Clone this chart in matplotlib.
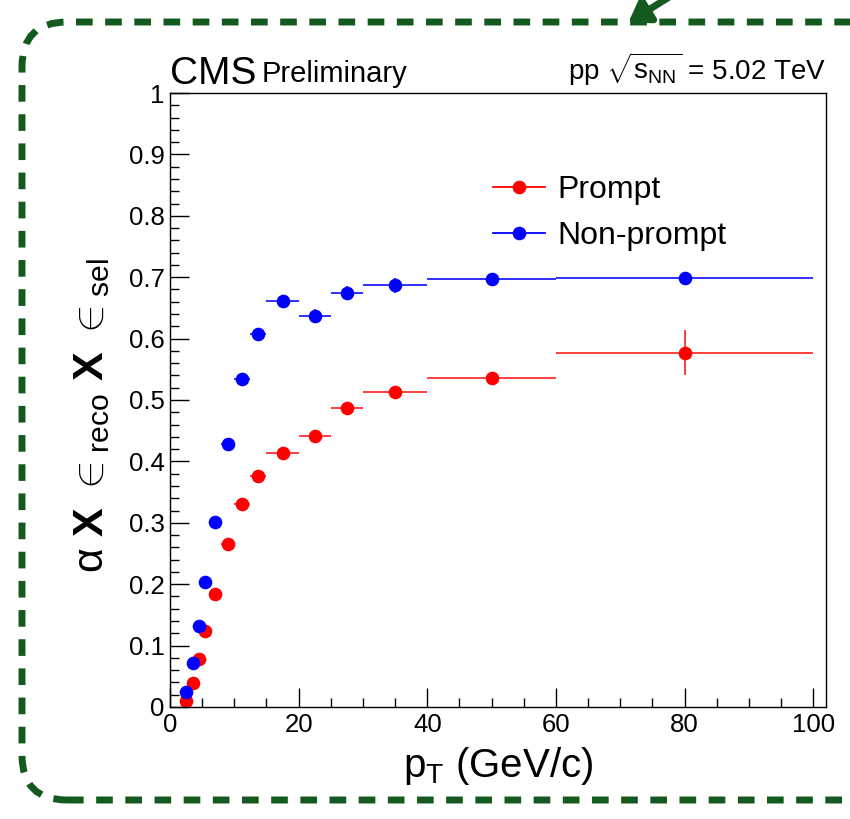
import matplotlib
matplotlib.use('Agg')
from matplotlib import pyplot as plt
from matplotlib.patches import FancyBboxPatch, FancyArrowPatch
from matplotlib.transforms import IdentityTransform
from matplotlib.lines import Line2D
from matplotlib.ticker import MultipleLocator
import numpy as np

plt.rcParams['font.family'] = ['Liberation Sans', 'DejaVu Sans']
plt.rcParams['mathtext.fontset'] = 'custom'
plt.rcParams['mathtext.rm'] = 'Liberation Sans'
plt.rcParams['mathtext.it'] = 'Liberation Sans:italic'
plt.rcParams['mathtext.bf'] = 'Liberation Sans:bold'

# pT bin edges (GeV/c)
bin_lo = [2, 3, 4, 5, 6, 8, 10, 12.5, 15, 20, 25, 30, 40, 60]
bin_hi = [3, 4, 5, 6, 8, 10, 12.5, 15, 20, 25, 30, 40, 60, 100]

# acceptance x efficiency, prompt and non-prompt
prompt = [0.010, 0.039, 0.078, 0.124, 0.184, 0.266, 0.330, 0.376,
          0.413, 0.441, 0.487, 0.513, 0.536, 0.577]
prompt_err = [0.002, 0.003, 0.003, 0.004, 0.004, 0.005, 0.005, 0.006,
              0.006, 0.010, 0.008, 0.009, 0.006, 0.037]
nonprompt = [0.024, 0.071, 0.132, 0.203, 0.302, 0.429, 0.535, 0.607,
             0.662, 0.637, 0.674, 0.687, 0.697, 0.699]
nonprompt_err = [0.002, 0.003, 0.003, 0.004, 0.004, 0.005, 0.006, 0.007,
                 0.009, 0.011, 0.011, 0.012, 0.007, 0.010]

lo = np.array(bin_lo)
hi = np.array(bin_hi)
centres = (lo + hi) / 2
xerr = (hi - lo) / 2

fig = plt.figure(figsize=(8.5, 8.19), dpi=100)
ax = fig.add_axes([0.2, 0.1368, 0.7718, 0.7496])

ax.errorbar(centres, prompt, xerr=xerr, yerr=prompt_err, fmt='o', color='#ff0000',
            ecolor='#ff3030', elinewidth=1.3, markersize=8.8, capsize=0)
ax.errorbar(centres, nonprompt, xerr=xerr, yerr=nonprompt_err, fmt='o', color='#0000ff',
            ecolor='#2020ff', elinewidth=1.3, markersize=8.8, capsize=0)

ax.set_xlim(0, 102)
ax.set_ylim(0, 1)
ax.xaxis.set_major_locator(MultipleLocator(20))
ax.xaxis.set_minor_locator(MultipleLocator(5))
ax.yaxis.set_minor_locator(MultipleLocator(0.02))
ax.set_yticks(np.arange(0, 1.01, 0.1))
ax.set_yticklabels(['0', '0.1', '0.2', '0.3', '0.4', '0.5', '0.6', '0.7', '0.8', '0.9', '1'])
ax.tick_params(which='both', direction='in', top=False, right=False, width=1, labelsize=18.5)
ax.tick_params(which='major', length=13.5, pad=4)
ax.tick_params(which='minor', length=6.5)
for s in ax.spines.values():
    s.set_linewidth(1)

ax.set_xlabel(r'p$_{\rm T}$ (GeV/c)', fontsize=29, labelpad=6)
ax.set_ylabel(r'$\mathrm{\alpha}$ $\mathbf{X}$ $\in_{\rm reco}$ $\mathbf{X}$ $\in_{\rm sel}$',
              fontsize=31)
ax.yaxis.set_label_coords(-0.088, 0.475)

handles = [Line2D([], [], color='#ff0000', marker='o', markersize=8.8, linewidth=1.3),
           Line2D([], [], color='#0000ff', marker='o', markersize=8.8, linewidth=1.3)]
ax.legend(handles, ['Prompt', 'Non-prompt'], loc='upper left',
          bbox_to_anchor=(493 / 850, 1 - 175 / 819), bbox_transform=fig.transFigure,
          frameon=False, fontsize=23, handlelength=1.63, handletextpad=0.37,
          labelspacing=0.5, borderpad=0, borderaxespad=0)

fig.text(0.2, 0.897, 'CMS', fontsize=28, ha='left', va='baseline')
fig.text(0.308, 0.9, 'Preliminary', fontsize=21, ha='left', va='baseline')
fig.text(0.972, 0.902, r'pp $\sqrt{\mathrm{s}_{\rm NN}}$ = 5.02 TeV', fontsize=20,
         ha='right', va='baseline')

# dashed rounded frame around the panel, in pixel coordinates
green = '#145a1e'
frame = FancyBboxPatch((22, 19), 880, 778, boxstyle='round,pad=0,rounding_size=45',
                       transform=IdentityTransform(), fill=False, edgecolor=green,
                       linewidth=5, linestyle=(0, (2.4, 1.8)), clip_on=False)
fig.patches.append(frame)
arrow = FancyArrowPatch((690, 835), (626, 795), transform=IdentityTransform(),
                        arrowstyle='-|>,head_length=12,head_width=8', color=green,
                        linewidth=5, clip_on=False)
fig.patches.append(arrow)

fig.savefig('out.png', dpi=100)
